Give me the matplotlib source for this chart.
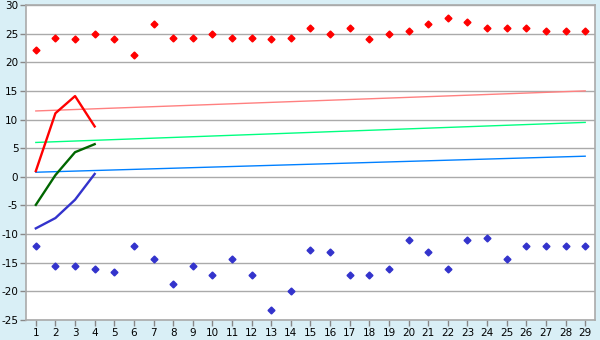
import matplotlib
matplotlib.use("Agg")
import matplotlib.pyplot as plt

plt.rcParams["axes.unicode_minus"] = False

days = list(range(1, 30))
high_pts = [22.2, 24.3, 24.0, 25.0, 24.0, 21.2, 26.7, 24.3, 24.3, 25.0,
            24.3, 24.3, 24.0, 24.3, 26.0, 25.0, 26.0, 24.0, 25.0, 25.5,
            26.7, 27.8, 27.1, 26.0, 26.0, 26.0, 25.5, 25.5, 25.5]
low_pts = [-12.1, -15.6, -15.6, -16.1, -16.6, -12.1, -14.4, -18.8, -15.6, -17.1,
           -14.4, -17.1, -23.2, -19.9, -12.8, -13.2, -17.1, -17.1, -16.1, -11.1,
           -13.2, -16.1, -11.1, -10.6, -14.4, -12.1, -12.1, -12.1, -12.1]
trend_x = [1, 29]
trend_high = [11.5, 15.0]
trend_mid = [6.0, 9.5]
trend_low = [0.8, 3.6]
curve_x = [1, 2, 3, 4]
curve_red = [1.0, 11.1, 14.1, 8.8]
curve_green = [-4.9, 0.3, 4.3, 5.7]
curve_blue = [-9.0, -7.2, -4.0, 0.5]
y_ticks = list(range(-25, 31, 5))

fig = plt.figure(figsize=(6, 3.4), dpi=100)
fig.patch.set_facecolor("#d9eff6")
ax = fig.add_axes([26/600, 1-320/340, (595-26)/600, (320-5)/340])
ax.set_facecolor("white")

for y in y_ticks:
    ax.axhline(y, color="#aaaaaa", lw=1.0, zorder=1)

ax.plot(trend_x, trend_high, color="#ff8080", lw=1.0, zorder=2)
ax.plot(trend_x, trend_mid, color="#00ff80", lw=1.0, zorder=2)
ax.plot(trend_x, trend_low, color="#0080ff", lw=1.0, zorder=2)

ax.plot(curve_x, curve_red, color="#ff0000", lw=1.7, zorder=3)
ax.plot(curve_x, curve_green, color="#006600", lw=1.7, zorder=3)
ax.plot(curve_x, curve_blue, color="#3333cc", lw=1.7, zorder=3)

ax.plot(days, high_pts, ls="none", marker="D", ms=3.5, color="#ff0000", zorder=4)
ax.plot(days, low_pts, ls="none", marker="D", ms=3.5, color="#3333cc", zorder=4)

ax.set_xlim(0.5, 29.5)
ax.set_ylim(-25, 30)
ax.set_xticks(days)
ax.set_xticklabels([str(d) for d in days])
ax.set_yticks(y_ticks)
ax.tick_params(axis="both", labelsize=7.5, color="#888888", length=4, width=1, pad=1.5)
for s in ax.spines.values():
    s.set_color("#aaaaaa")
    s.set_linewidth(1.2)

fig.savefig("out.png", dpi=100, facecolor=fig.get_facecolor())
